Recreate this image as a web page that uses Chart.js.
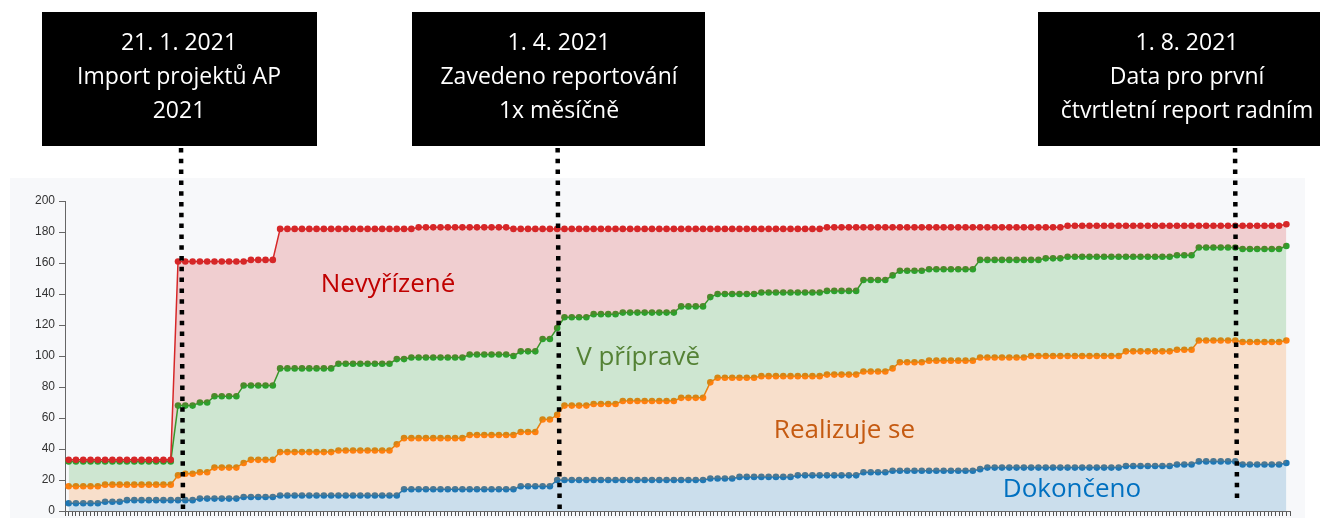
<!DOCTYPE html>
<html>
<head>
<meta charset="utf-8">
<script src="https://cdn.jsdelivr.net/npm/chart.js@4.4.1/dist/chart.umd.min.js"></script>
<style>
  body { margin: 0; background: #fff; }
  #wrap { position: relative; width: 1328px; height: 518px; }
</style>
</head>
<body>
<div id="wrap"><canvas id="chart" width="1328" height="518"></canvas></div>
<script>
// cumulative counts of projects per state, one value per reporting day
const nevyrizene = [
  33,33,33,33,33,33,33,33,33,33,
  33,33,33,33,33,161,161,161,161,161,
  161,161,161,161,161,162,162,162,162,182,
  182,182,182,182,182,182,182,182,182,182,
  182,182,182,182,182,182,182,182,183,183,
  183,183,183,183,183,183,183,183,183,183,
  183,182,182,182,182,182,182,182,182,182,
  182,182,182,182,182,182,182,182,182,182,
  182,182,182,182,182,182,182,182,182,182,
  182,182,182,182,182,182,182,182,182,182,
  182,182,182,182,183,183,183,183,183,183,
  183,183,183,183,183,183,183,183,183,183,
  183,183,183,183,183,183,183,183,183,183,
  183,183,183,183,183,183,183,184,184,184,
  184,184,184,184,184,184,184,184,184,184,
  184,184,184,184,184,184,184,184,184,184,
  184,184,184,184,184,184,184,185
];
const vPriprave = [
  32,32,32,32,32,32,32,32,32,32,
  32,32,32,32,32,68,68,68,70,70,
  74,74,74,74,81,81,81,81,81,92,
  92,92,92,92,92,92,92,95,95,95,
  95,95,95,95,95,98,98,99,99,99,
  99,99,99,99,99,101,101,101,101,101,
  101,100,103,103,103,111,111,118,125,125,
  125,125,127,127,127,127,128,128,128,128,
  128,128,128,128,132,132,132,132,138,140,
  140,140,140,140,140,141,141,141,141,141,
  141,141,141,141,142,142,142,142,142,149,
  149,149,149,152,155,155,155,155,156,156,
  156,156,156,156,156,162,162,162,162,162,
  162,162,162,162,163,163,163,164,164,164,
  164,164,164,164,164,164,164,164,164,164,
  164,164,165,165,165,170,170,170,170,170,
  170,169,169,169,169,169,169,171
];
const realizujeSe = [
  16,16,16,16,16,17,17,17,17,17,
  17,17,17,17,17,23,24,24,25,25,
  28,28,28,28,31,33,33,33,33,38,
  38,38,38,38,38,38,38,39,39,39,
  39,39,39,39,39,43,47,47,47,47,
  47,47,47,47,47,49,49,49,49,49,
  49,49,51,51,51,59,59,62,68,68,
  68,68,69,69,69,69,71,71,71,71,
  71,71,71,71,73,73,73,73,83,86,
  86,86,86,86,86,87,87,87,87,87,
  87,87,87,87,88,88,88,88,88,90,
  90,90,90,92,96,96,96,96,97,97,
  97,97,97,97,97,99,99,99,99,99,
  99,99,100,100,100,100,100,100,100,100,
  100,100,100,100,100,103,103,103,103,103,
  103,103,104,104,104,110,110,110,110,110,
  110,109,109,109,109,109,109,110
];
const dokonceno = [
  5,5,5,5,5,6,6,6,7,7,
  7,7,7,7,7,7,7,7,8,8,
  8,8,8,8,9,9,9,9,9,10,
  10,10,10,10,10,10,10,10,10,10,
  10,10,10,10,10,10,14,14,14,14,
  14,14,14,14,14,14,14,14,14,14,
  14,14,16,16,16,16,16,20,20,20,
  20,20,20,20,20,20,20,20,20,20,
  20,20,20,20,20,20,20,20,21,21,
  21,21,22,22,22,22,22,22,22,22,
  23,23,23,23,23,23,23,23,23,25,
  25,25,25,26,26,26,26,26,26,26,
  26,26,26,26,26,27,28,28,28,28,
  28,28,28,28,28,28,28,28,28,28,
  28,28,28,28,28,29,29,29,29,29,
  29,29,30,30,30,32,32,32,32,32,
  32,30,30,30,30,30,30,31
];

const yTicks = [0, 20, 40, 60, 80, 100, 120, 140, 160, 180, 200];

// area names written into the chart, anchored in data coordinates
const areaNames = ["Nevyřízené", "V přípravě", "Realizuje se", "Dokončeno"];
const areaNameX = [43.8, 78.1, 106.4, 137.6];
const areaNameY = [146, 99, 52, 13.5];
const areaNameColors = ["#c00000", "#548235", "#c55a11", "#0070c0"];

// milestones
const eventDates = ["21. 1. 2021", "1. 4. 2021", "1. 8. 2021"];
const eventLines = [
  ["Import projektů AP", "2021"],
  ["Zavedeno reportování", "1x měsíčně"],
  ["Data pro první", "čtvrtletní report radním"]
];
const eventIndex = [15.55, 67.2, 160.1];

const toPoints = arr => arr.map((v, i) => ({ x: i, y: v }));

function series(label, data, color, fillColor, fill) {
  return {
    label: label,
    data: toPoints(data),
    borderColor: color,
    backgroundColor: fillColor,
    pointBackgroundColor: color,
    pointBorderWidth: 0,
    pointRadius: 3.3,
    pointHoverRadius: 3.3,
    borderWidth: 1.5,
    tension: 0,
    fill: fill
  };
}

const overlay = {
  id: 'overlay',
  beforeDraw(chart) {
    const ctx = chart.ctx;
    ctx.save();
    ctx.fillStyle = '#f7f8fa';
    ctx.fillRect(10, 178, 1295, 340);
    ctx.restore();
  },
  afterDatasetsDraw(chart) {
    const ctx = chart.ctx;
    const xs = chart.scales.x, ys = chart.scales.y;
    ctx.save();
    ctx.font = '26px "Open Sans"';
    ctx.textAlign = 'center';
    ctx.textBaseline = 'middle';
    areaNames.forEach((t, i) => {
      ctx.fillStyle = areaNameColors[i];
      ctx.fillText(t, xs.getPixelForValue(areaNameX[i]), ys.getPixelForValue(areaNameY[i]));
    });
    ctx.restore();
  },
  afterDraw(chart) {
    const ctx = chart.ctx;
    const xs = chart.scales.x;
    const boxes = [[42, 12, 275, 134, 179], [412, 12, 293, 134, 559], [1038, 12, 282, 134, 1187]];
    const lineEnds = [515, 515, 503];
    ctx.save();
    boxes.forEach((b, i) => {
      ctx.fillStyle = '#000';
      ctx.fillRect(b[0], b[1], b[2], b[3]);
      ctx.fillStyle = '#fff';
      ctx.font = '23px "Open Sans"';
      ctx.textAlign = 'center';
      ctx.textBaseline = 'alphabetic';
      const rows = [eventDates[i]].concat(eventLines[i]);
      rows.forEach((r, k) => ctx.fillText(r, b[4], 50 + k * 34));
    });
    ctx.strokeStyle = '#000';
    ctx.lineWidth = 4.5;
    ctx.setLineDash([4.5, 6.3]);
    eventIndex.forEach((v, i) => {
      const x = xs.getPixelForValue(v);
      ctx.beginPath();
      ctx.moveTo(x - 1, 148);
      ctx.lineTo(x + 1, lineEnds[i]);
      ctx.stroke();
    });
    ctx.restore();
  }
};

new Chart(document.getElementById('chart'), {
  type: 'line',
  data: {
    datasets: [
      series('Nevyřízené', nevyrizene, '#d62728', 'rgba(214,39,40,0.2)', '+1'),
      series('V přípravě', vPriprave, '#2ca02c', 'rgba(44,160,44,0.2)', '+1'),
      series('Realizuje se', realizujeSe, '#ff7f0e', 'rgba(255,127,14,0.2)', '+1'),
      series('Dokončeno', dokonceno, '#1f77b4', 'rgba(31,119,180,0.2)', 'origin')
    ]
  },
  options: {
    responsive: false,
    animation: false,
    devicePixelRatio: 1,
    layout: { padding: { left: 10, top: 201, right: 38, bottom: 2 } },
    plugins: {
      legend: { display: false },
      tooltip: { enabled: false }
    },
    events: [],
    scales: {
      x: {
        type: 'linear',
        min: -0.5,
        max: nevyrizene.length - 0.5,
        afterFit: s => { s.height = 5; s.paddingLeft = 0; s.paddingRight = 0; },
        ticks: { display: false, stepSize: 0.5 },
        grid: { drawOnChartArea: false, drawTicks: true, tickLength: 5, color: '#555' },
        border: { color: '#666', width: 1 }
      },
      y: {
        min: 0,
        max: 200,
        afterBuildTicks: s => { s.ticks = yTicks.map(v => ({ value: v })); },
        afterFit: s => { s.width = 55; s.paddingTop = 0; s.paddingBottom = 0; },
        ticks: { color: '#333', padding: 4, font: { family: 'Liberation Sans', size: 12 } },
        grid: { drawOnChartArea: false, tickLength: 6, color: '#666' },
        border: { color: '#666', width: 1 }
      }
    }
  },
  plugins: [overlay]
});
</script>
</body>
</html>
